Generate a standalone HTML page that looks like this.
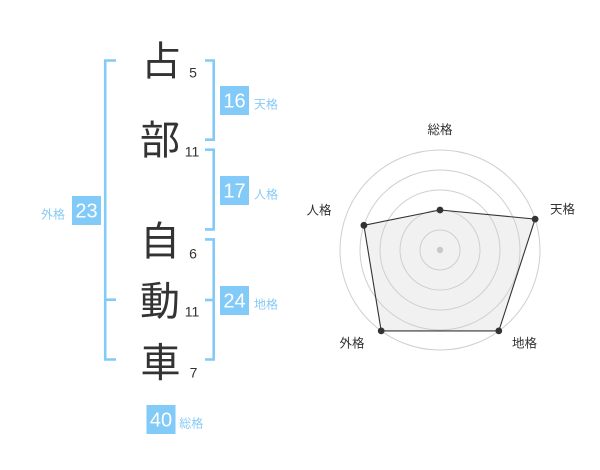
<!DOCTYPE html>
<html>
<head>
<meta charset="utf-8">
<style>
html,body{margin:0;padding:0;background:#fff;}
svg{display:block;}
.k{font-family:"Liberation Sans","Noto Sans CJK JP",sans-serif;font-size:40px;fill:#333;text-anchor:middle;}
.d{font-family:"Liberation Sans","Noto Sans CJK JP",sans-serif;font-size:14px;fill:#333;text-anchor:middle;}
.n{font-family:"Liberation Sans","Noto Sans CJK JP",sans-serif;font-size:20px;fill:#fff;text-anchor:middle;}
.l{font-family:"Liberation Sans","Noto Sans CJK JP",sans-serif;font-size:12px;fill:#86cbf6;text-anchor:middle;}
.r{font-family:"Liberation Sans","Noto Sans CJK JP",sans-serif;font-size:12.5px;fill:#333;text-anchor:middle;}
</style>
</head>
<body>
<svg width="600" height="470" viewBox="0 0 600 470" xmlns="http://www.w3.org/2000/svg">
<rect width="600" height="470" fill="#fff"/>

<!-- brackets -->
<g fill="none" stroke="#82caf8" stroke-width="2.6">
  <path d="M116,60.5 H105.2 V359.5 H116"/>
  <path d="M105.2,299.7 H116"/>
  <path d="M205,60.5 H213.7 V139.7 H205"/>
  <path d="M205,149.7 H213.7 V229.4 H205"/>
  <path d="M205,239.4 H213.7 V359.5 H205"/>
  <path d="M205,300 H213.7"/>
</g>

<!-- kanji -->
<text class="k" x="161.2" y="74.9">占</text>
<text class="k" x="160" y="154.2">部</text>
<text class="k" x="160" y="255.2">自</text>
<text class="k" x="160" y="314.9">動</text>
<text class="k" x="160.5" y="376.5">車</text>

<!-- stroke counts -->
<text class="d" x="193" y="77.7">5</text>
<text class="d" x="192" y="156.7">11</text>
<text class="d" x="193" y="258.3">6</text>
<text class="d" x="192" y="316.7">11</text>
<text class="d" x="193.5" y="377.7">7</text>

<!-- boxes -->
<g fill="#82caf8">
  <rect x="220" y="86" width="29" height="29"/>
  <rect x="220" y="176" width="29" height="29"/>
  <rect x="220" y="286" width="29" height="29"/>
  <rect x="72" y="196" width="29" height="29"/>
  <rect x="146.5" y="405" width="29" height="29"/>
</g>
<text class="n" x="234.5" y="107.3">16</text>
<text class="n" x="234.5" y="197.3">17</text>
<text class="n" x="234.5" y="307.3">24</text>
<text class="n" x="86.5" y="217.3">23</text>
<text class="n" x="161" y="426.3">40</text>

<text class="l" x="266" y="108.5">天格</text>
<text class="l" x="266" y="198.5">人格</text>
<text class="l" x="266" y="308.5">地格</text>
<text class="l" x="53" y="218.5">外格</text>
<text class="l" x="191.3" y="427.5">総格</text>

<!-- radar -->
<polygon points="440,210 535.1,219.1 498.8,330.9 381.2,330.9 363.9,225.3" fill="#f1f1f1"/>
<g fill="none" stroke="#cfcfcf" stroke-width="1">
  <circle cx="440" cy="250" r="20"/>
  <circle cx="440" cy="250" r="40"/>
  <circle cx="440" cy="250" r="60"/>
  <circle cx="440" cy="250" r="80"/>
  <circle cx="440" cy="250" r="100"/>
</g>
<circle cx="440" cy="250" r="3.2" fill="#c8c8c8"/>
<polygon points="440,210 535.1,219.1 498.8,330.9 381.2,330.9 363.9,225.3" fill="none" stroke="#333" stroke-width="1.1"/>
<g fill="#333">
  <circle cx="440" cy="210" r="3.4"/>
  <circle cx="535.1" cy="219.1" r="3.4"/>
  <circle cx="498.8" cy="330.9" r="3.4"/>
  <circle cx="381.2" cy="330.9" r="3.4"/>
  <circle cx="363.9" cy="225.3" r="3.4"/>
</g>
<text class="r" x="440" y="134">総格</text>
<text class="r" x="562.5" y="213.5">天格</text>
<text class="r" x="319" y="214.3">人格</text>
<text class="r" x="352" y="347.3">外格</text>
<text class="r" x="524.5" y="347.3">地格</text>
</svg>
</body>
</html>
